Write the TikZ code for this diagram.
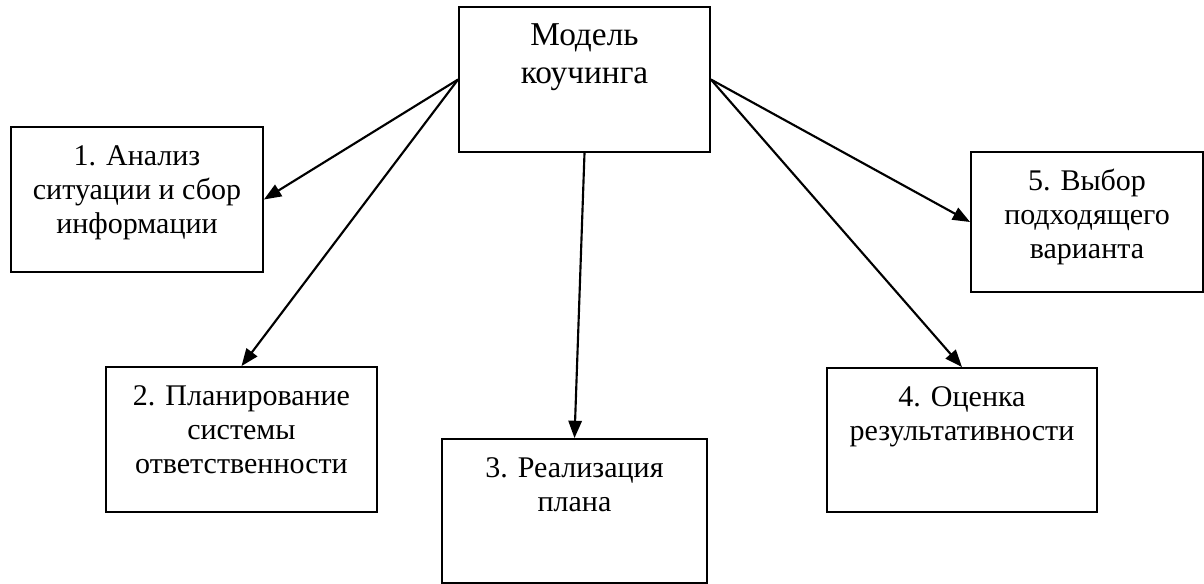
\documentclass[tikz,border=0pt]{standalone}
\usepackage{fontspec}
\setmainfont{Liberation Serif}
\usetikzlibrary{arrows.meta,positioning}
\tikzset{stage/.style={draw, line width=1.4pt, inner sep=0pt, fill=white},
         link/.style={line width=1.6pt, -{Triangle[length=13pt,width=10pt]}}}
% text box: width, height, lines (first baseline 28.5pt below the top)
\newcommand{\stagetext}[3]{\parbox[c][#2][t]{#1}{\centering\rule{0pt}{28.5pt}#3}}

\begin{document}
\begin{tikzpicture}[x=0.75pt, y=-0.75pt]
                \fontsize{22.5}{25.5}\selectfont
                \useasboundingbox (0,0) rectangle (1204,583);

                \node [stage] (model) at (584.5, 79.5) {\fontsize{25}{28.5}\selectfont\stagetext{188.25pt}{108.75pt}{Модель\\ коучинга}};
                \node [stage] (analysis) at (137, 199.5) {\stagetext{189pt}{108.75pt}{1. Анализ\\ ситуации и сбор\\ информации}};
                \node [stage] (planning) at (241.5, 439.5) {\stagetext{203.25pt}{108.75pt}{2. Планирование\\ системы\\ ответственности}};
                \node [stage] (realize) at (574.5, 511) {\stagetext{198.75pt}{108pt}{3. Реализация\\ плана}};
                \node [stage] (assess) at (962, 440) {\stagetext{202.5pt}{108pt}{4. Оценка\\ результативности}};
                \node [stage] (choice) at (1087, 222) {\stagetext{174pt}{105pt}{5. Выбор\\ подходящего\\ варианта}};

                \draw [link] (model.west) -- (analysis.east);
                \draw [link] (model.west) -- (planning.north);
                \draw [link] (model.south) -- (realize.north);
                \draw [link] (model.east) -- (assess.north);
                \draw [link] (model.east) -- (choice.west);

            \end{tikzpicture}
\end{document}
